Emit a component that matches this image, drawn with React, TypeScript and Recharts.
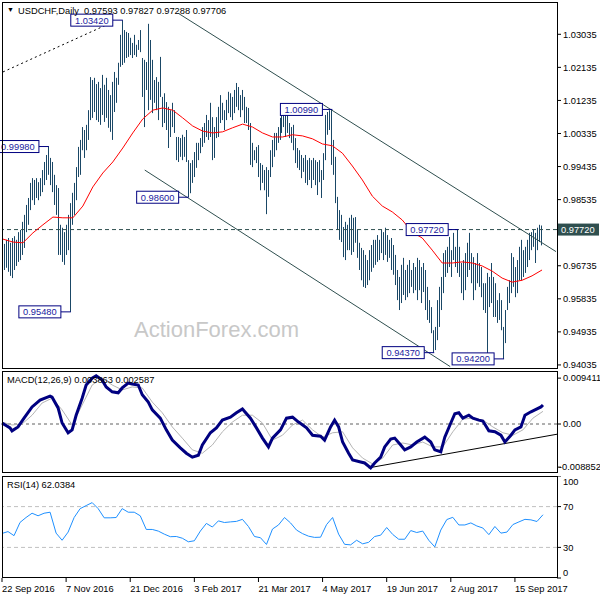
import React from "react";
import { ComposedChart, LineChart, Bar, Line, XAxis, YAxis, ReferenceLine, ReferenceDot } from "recharts";

// daily USDCHF bars, 22 Sep 2016 onwards
const HIGH = [
  0.9738, 0.9733, 0.9744, 0.9749, 0.9736, 0.9749, 0.9754, 0.9744, 0.9765, 0.9771,
  0.9793, 0.9812, 0.9839, 0.9858, 0.9899, 0.9912, 0.9907, 0.9912, 0.9901, 0.9912,
  0.9934, 0.9956, 0.9975, 0.9998, 0.9967, 0.9956, 0.9921, 0.9893, 0.9885, 0.9785,
  0.9777, 0.9765, 0.9785, 0.9812, 0.9844, 0.9872, 0.9899, 0.9942, 0.9997, 1.0016,
  1.0051, 1.0043, 1.0057, 1.0097, 1.0187, 1.0179, 1.0185, 1.0168, 1.0174, 1.0157,
  1.0193, 1.0166, 1.0185, 1.0152, 1.0138, 1.0174, 1.0201, 1.0185, 1.0226, 1.0302,
  1.0342, 1.0315, 1.031, 1.0307, 1.0294, 1.028, 1.0302, 1.0275, 1.0288, 1.0315,
  1.0239, 1.0234, 1.0228, 1.0332, 1.0288, 1.0234, 1.0179, 1.0187, 1.0174, 1.0242,
  1.0133, 1.0143, 1.0119, 1.0106, 1.0097, 1.0117, 1.0097, 1.0024, 1.0024, 1.0021,
  1.003, 1.0024, 1.0043, 0.9961, 0.9953, 0.9961, 0.9983, 1.0008, 1.0008, 1.0021,
  1.0051, 1.0062, 1.0084, 1.007, 1.0117, 1.0078, 1.0051, 1.0078, 1.0106, 1.0138,
  1.0117, 1.0097, 1.0125, 1.0147, 1.0143, 1.0133, 1.0152, 1.0171, 1.016, 1.0138,
  1.0152, 1.0133, 1.0106, 1.0103, 1.0062, 1.0008, 0.9988, 0.9997, 1.0002, 0.9953,
  0.9948, 0.9934, 0.9942, 0.9934, 0.9988, 1.0016, 1.0035, 1.0035, 1.0051, 1.0076,
  1.0089, 1.0092, 1.0089, 1.0084, 1.0062, 1.0051, 1.0057, 1.0021, 0.9994, 0.9988,
  0.9975, 0.9967, 0.9975, 0.9961, 0.9967, 0.9961, 0.9967, 0.9961, 0.9956, 0.9961,
  0.9934, 0.998, 1.0084, 1.0092, 1.0097, 1.0099, 1.0016, 0.997, 0.9861, 0.9825,
  0.9812, 0.9779, 0.9793, 0.9785, 0.9804, 0.9812, 0.9804, 0.9806, 0.9771, 0.9736,
  0.9722, 0.9716, 0.9703, 0.9689, 0.9716, 0.973, 0.9744, 0.9744, 0.9757, 0.9744,
  0.9771, 0.9765, 0.9777, 0.9757, 0.9744, 0.9749, 0.973, 0.9703, 0.9662, 0.9643,
  0.9676, 0.9695, 0.9662, 0.9676, 0.9689, 0.9662, 0.9681, 0.967, 0.9695, 0.9689,
  0.967, 0.9681, 0.9662, 0.9616, 0.958, 0.9561, 0.9498, 0.9507, 0.958, 0.9616,
  0.9643, 0.9708, 0.9716, 0.9725, 0.9752, 0.9716, 0.9763, 0.9725, 0.9772, 0.9725,
  0.9681, 0.9689, 0.9708, 0.9736, 0.9763, 0.9708, 0.9697, 0.9681, 0.9708, 0.9681,
  0.967, 0.9626, 0.9626, 0.9654, 0.9643, 0.9681, 0.9643, 0.9626, 0.958, 0.9599,
  0.958, 0.9507, 0.9553, 0.9616, 0.9634, 0.9708, 0.9697, 0.967, 0.9689, 0.9725,
  0.9744, 0.9716, 0.9725, 0.9744, 0.9763, 0.9765, 0.9771, 0.9763, 0.9777, 0.9785,
  0.9783,
];
const LOW = [
  0.9649, 0.9662, 0.9668, 0.9657, 0.9646, 0.964, 0.9662, 0.9673, 0.9684, 0.9689,
  0.9703, 0.9722, 0.9765, 0.9785, 0.9825, 0.9852, 0.9839, 0.9858, 0.9852, 0.9863,
  0.9874, 0.9893, 0.9907, 0.9921, 0.9893, 0.9874, 0.9839, 0.9812, 0.9703, 0.9703,
  0.9684, 0.9676, 0.9703, 0.9716, 0.9548, 0.9785, 0.9812, 0.9852, 0.9915, 0.9921,
  0.9988, 0.9967, 0.9988, 1.0016, 1.007, 1.0076, 1.0092, 1.007, 1.0065, 1.0057,
  1.0084, 1.0065, 1.0076, 1.0049, 1.0038, 1.0016, 1.0092, 1.0117, 1.0166, 1.0215,
  1.022, 1.0226, 1.0239, 1.0242, 1.0247, 1.0239, 1.0247, 1.0242, 1.0261, 1.0255,
  1.0133, 1.0051, 1.0152, 1.0097, 1.0125, 1.0089, 1.0117, 1.0097, 1.007, 1.0133,
  1.0051, 1.0062, 1.0043, 0.9994, 1.0024, 1.0051, 1.0035, 0.9961, 0.9956, 0.997,
  0.9961, 0.997, 0.9956, 0.986, 0.9871, 0.9899, 0.9915, 0.994, 0.9961, 0.998,
  0.9997, 1.0008, 1.0024, 1.0016, 1.0024, 0.9961, 0.9967, 1.0021, 1.0024, 1.0062,
  1.007, 1.0043, 1.007, 1.0089, 1.0078, 1.007, 1.0089, 1.0106, 1.0097, 1.0078,
  1.0097, 1.0062, 1.0062, 1.0043, 0.9948, 0.9942, 0.9961, 0.9953, 0.9915, 0.9879,
  0.9899, 0.9879, 0.9814, 0.9861, 0.9915, 0.9942, 0.997, 0.9988, 1.0008, 1.0016,
  1.0035, 1.0051, 1.0024, 1.0035, 1.0021, 1.0008, 0.9988, 0.9953, 0.994, 0.9934,
  0.9912, 0.9929, 0.9899, 0.9893, 0.9907, 0.9885, 0.9907, 0.9893, 0.9866, 0.9901,
  0.9858, 0.9907, 0.9961, 1.003, 1.0043, 0.9948, 0.9921, 0.9844, 0.9771, 0.9744,
  0.9738, 0.9697, 0.9689, 0.9716, 0.9716, 0.9703, 0.9711, 0.9736, 0.9695, 0.9662,
  0.9634, 0.9616, 0.9613, 0.9621, 0.9634, 0.9657, 0.9668, 0.9676, 0.9684, 0.9689,
  0.9708, 0.9689, 0.9703, 0.9684, 0.9695, 0.9662, 0.9649, 0.9621, 0.958, 0.9553,
  0.9572, 0.9594, 0.958, 0.9588, 0.9599, 0.9616, 0.9599, 0.9607, 0.958, 0.9607,
  0.9572, 0.9602, 0.9553, 0.9526, 0.9518, 0.949, 0.9437, 0.9444, 0.9471, 0.9507,
  0.9553, 0.9599, 0.9643, 0.9654, 0.967, 0.9643, 0.9689, 0.967, 0.9654, 0.9643,
  0.9599, 0.958, 0.9607, 0.9643, 0.9662, 0.9626, 0.958, 0.9607, 0.9626, 0.9616,
  0.9588, 0.9553, 0.9545, 0.9431, 0.9561, 0.9572, 0.9534, 0.9534, 0.9518, 0.9526,
  0.9498, 0.942, 0.9463, 0.9553, 0.9572, 0.9599, 0.9616, 0.9588, 0.9599, 0.9634,
  0.9634, 0.9643, 0.9654, 0.967, 0.9689, 0.9716, 0.9725, 0.9681, 0.9716, 0.9738,
  0.9729,
];

// moving average, one value every 5 bars
const MA_STEP = 5;
const MA = [
  0.9746, 0.9738, 0.9736, 0.9763, 0.9785, 0.9806, 0.9804, 0.9804, 0.9836, 0.9888,
  0.9926, 0.9956, 0.9994, 1.0035, 1.0073, 1.0097, 1.0103, 1.0097, 1.0076, 1.0054,
  1.004, 1.0035, 1.0038, 1.0049, 1.0059, 1.0051, 1.0035, 1.0024, 1.0024, 1.003,
  1.0027, 1.0019, 1.0005, 1.0, 0.998, 0.9945, 0.9907, 0.9863, 0.9836, 0.982,
  0.9798, 0.9765, 0.9749, 0.9716, 0.9681, 0.9681, 0.9684, 0.9681, 0.9673, 0.9659,
  0.964, 0.9629, 0.9634, 0.9646, 0.9662,
];

// MACD(12,26,9) main line, read at these bars
const MACD_AT = [
  0, 4, 5, 8, 11, 15, 19, 24, 25, 28, 30, 33, 35, 37, 40, 42, 45, 47, 50, 52,
  55, 58, 60, 63, 65, 68, 70, 73, 75, 79, 82, 85, 89, 92, 95, 98, 100, 104, 107, 110,
  114, 117, 120, 124, 127, 130, 133, 135, 139, 142, 145, 148, 152, 155, 159, 161, 164, 166, 168, 170,
  173, 175, 179, 181, 184, 186, 189, 191, 194, 196, 199, 201, 204, 207, 211, 214, 216, 219, 221, 224,
  226, 228, 230, 233, 235, 238, 240, 243, 246, 249, 251, 254, 256, 259, 261, 264, 266, 269, 270,
];
const MACD = [
  0.0002, -0.0008, -0.0014, -0.0006, 0.0012, 0.0035, 0.0049, 0.0057, 0.0055, 0.0033,
  0.0002, -0.0018, -0.0012, 0.0018, 0.0053, 0.008, 0.0094, 0.0099, 0.009, 0.0076,
  0.0066, 0.0064, 0.0074, 0.0084, 0.0082, 0.008, 0.006, 0.0045, 0.0029, 0.0012,
  -0.0012, -0.0033, -0.0049, -0.006, -0.0068, -0.0064, -0.0043, -0.0018, -0.0008, 0.0008,
  0.0014, 0.0023, 0.0031, 0.0012, -0.0008, -0.0029, -0.0047, -0.0029, -0.0012, 0.0012,
  0.0014, 0.0004, -0.0008, -0.0023, -0.0025, -0.0033, -0.0006, 0.0008, -0.0006, -0.0037,
  -0.006, -0.0074, -0.0078, -0.008, -0.009, -0.008, -0.0068, -0.0047, -0.0031, -0.0029,
  -0.0043, -0.0053, -0.0047, -0.0037, -0.0027, -0.0037, -0.0053, -0.0057, -0.0027, 0.0002,
  0.0021, 0.0023, 0.0012, 0.0018, 0.0012, 0.0008, 0.0006, -0.0014, -0.0016, -0.0023,
  -0.0037, -0.0023, -0.0012, -0.0006, 0.0018, 0.0025, 0.0029, 0.0035, 0.0039,
];
// signal line, one value every 5 bars
const SIGNAL_STEP = 5;
const SIGNAL = [
  0.0004, -0.0002, 0.0, 0.0018, 0.0043, 0.0053, 0.0029, -0.0002, 0.0039, 0.008,
  0.0094, 0.008, 0.007, 0.0076, 0.0074, 0.0045, 0.0023, -0.0006, -0.0029, -0.0053,
  -0.006, -0.0043, -0.0016, 0.0004, 0.0018, 0.0018, 0.0002, -0.0033, -0.0023, -0.0002,
  0.0008, -0.0012, -0.0027, -0.0018, -0.0016, -0.0049, -0.007, -0.0082, -0.007, -0.0043,
  -0.0039, -0.0043, -0.0037, -0.0047, -0.0047, -0.0016, 0.001, 0.0012, 0.0008, -0.0006,
  -0.0018, -0.0023, -0.0012, 0.0012, 0.0026,
];

// RSI(14), one value every 3 bars
const RSI_STEP = 3;
const RSI = [
  43.7, 45.5, 41.5, 54.5, 59.3, 63.5, 61, 63.5, 64.5, 44,
  37, 45, 59.3, 68, 71, 73.9, 68, 59, 59, 59.3,
  68, 64.5, 64.5, 61, 47.6, 47.6, 46, 43, 40.5, 40.7,
  39, 35.5, 36.5, 46, 53.5, 50, 56, 54.4, 55, 55.5,
  57.5, 50.5, 40.7, 39.5, 32.9, 48, 52, 59.3, 54, 47,
  43.5, 41, 39.8, 40, 52.4, 59.3, 43, 33, 32.5, 37,
  33.5, 35, 40.7, 42, 49.5, 42.7, 38, 38, 46.5, 44.6,
  46, 37, 30.5, 47, 57.3, 59.5, 52, 52, 54, 51,
  49, 42.5, 50.5, 44, 45, 52.4, 55, 57.5, 57, 55.4,
  62.0,
];

const PRICE_TICKS = [1.03035, 1.02135, 1.01235, 1.00335, 0.99435, 0.98535, 0.96735, 0.95835, 0.94935, 0.94035];
const MACD_TICKS = [0.009411, 0, -0.008852];
const RSI_TICKS = [100, 70, 30, 0];
const DATE_TICKS = [0, 32, 64, 96, 128, 160, 192, 224, 256];
const DATE_LABELS = ["22 Sep 2016", "7 Nov 2016", "21 Dec 2016", "3 Feb 2017", "21 Mar 2017", "4 May 2017", "19 Jun 2017", "2 Aug 2017", "15 Sep 2017"];

const SWING_BARS = [60, 23, 93, 34, 165, 228, 216, 251];
const SWING_PRICES = [1.0342, 0.9998, 0.986, 0.9548, 1.0099, 0.9772, 0.9437, 0.942];
const LAST_LEVEL = 0.9772;

const SLOTS = 278; // bars plus empty space on the right

const FONT = '"Liberation Sans", Arial, sans-serif';
const FS = 9.3;
const BAR_COLOR = "#1a4766";
const TREND = "#2f4f4f";

const pick = (arr: number[], i: number, step: number) =>
  i % step === 0 && arr[i / step] != null ? arr[i / step] : null;

const rows = Array.from({ length: SLOTS }, (_, i) => {
  const m = MACD_AT.indexOf(i);
  return {
    i,
    hl: i < HIGH.length ? [LOW[i], HIGH[i]] : null,
    ma: pick(MA, i, MA_STEP),
    macd: m >= 0 ? MACD[m] : null,
    signal: pick(SIGNAL, i, SIGNAL_STEP),
    rsi: pick(RSI, i, RSI_STEP),
  };
});

const OhlcBar = (props: any) => {
  const { x, y, width, height } = props;
  if (x == null || y == null || height == null || isNaN(y)) return null;
  const top = Math.min(y, y + height);
  const h = Math.max(Math.abs(height), 1);
  return <rect x={Math.floor(x + width / 2)} y={top} width={1} height={h} fill={BAR_COLOR} />;
};

const priceTag = (text: string) => (props: any) => {
  const { cx, cy } = props;
  const right = cx - 10;
  const w = 42;
  const h = 12;
  return (
    <g>
      <line x1={right} y1={cy} x2={cx} y2={cy} stroke="#000080" />
      <rect x={right - w} y={cy - h / 2} width={w} height={h} fill="#fff" stroke="#000080" />
      <text x={right - w / 2} y={cy + 3.5} textAnchor="middle" fontSize={FS} fontFamily={FONT} fill="#1a1aa0">
        {text}
      </text>
    </g>
  );
};

const RightTick = (props: any) => {
  const { x, y, payload, fmt, nudge } = props;
  const dy = nudge ? nudge(payload.value) : 0;
  const dx = payload.value < 0 ? -4 : 0;
  return (
    <text x={x + dx} y={y + dy + 3.3} fontSize={FS} fontFamily={FONT} fill="#000" textAnchor="start">
      {fmt(payload.value)}
    </text>
  );
};

const DateTick = (props: any) => {
  const { x, y, payload } = props;
  const k = DATE_TICKS.indexOf(payload.value);
  if (k < 0) return null;
  return (
    <text x={x} y={y + 8} fontSize={FS} fontFamily={FONT} fill="#000" textAnchor="start">
      {DATE_LABELS[k]}
    </text>
  );
};

const LastLevelBox = (props: any) => {
  const vb = props.viewBox;
  if (!vb) return null;
  const x = vb.x + vb.width + 1;
  return (
    <g>
      <rect x={x} y={vb.y - 6} width={41} height={12} fill={TREND} />
      <text x={x + 3} y={vb.y + 3.5} fontSize={FS} fontFamily={FONT} fill="#fff">
        {LAST_LEVEL.toFixed(5)}
      </text>
    </g>
  );
};

const priceFmt = (v: number) => v.toFixed(5);
const macdFmt = (v: number) => (v === 0 ? "0.00" : String(v));
const rsiFmt = (v: number) => String(v);
const rsiNudge = (v: number) => (v === 100 ? 6 : v === 0 ? -5 : 0);

const textStyle: React.CSSProperties = {
  position: "absolute",
  fontFamily: FONT,
  fontSize: FS,
  lineHeight: "12px",
  color: "#000",
  whiteSpace: "pre",
};

export default function App() {
  return (
    <div style={{ position: "absolute", left: 0, top: 0, width: 600, height: 600, background: "#fff", overflow: "hidden" }}>
      <div style={{ position: "absolute", left: 134, top: 317, fontFamily: FONT, fontSize: 22, color: "#c8c8c8", whiteSpace: "pre" }}>
        ActionForex.com
      </div>

      <div style={{ position: "absolute", left: 0, top: 0 }}>
        <ComposedChart width={600} height={370} data={rows} margin={{ top: 2, right: 0, bottom: 2, left: 2 }}>
          <XAxis dataKey="i" hide />
          <YAxis
            orientation="right"
            width={43}
            domain={[0.93952, 1.03914]}
            allowDataOverflow
            ticks={PRICE_TICKS}
            interval={0}
            axisLine={false}
            tickSize={4}
            tickLine={{ stroke: "#000" }}
            tick={<RightTick fmt={priceFmt} />}
          />
          <ReferenceLine
            segment={[{ x: 0, y: 1.0201 }, { x: 55, y: 1.0337 }]}
            stroke="#000"
            strokeDasharray="2 3"
          />
          <ReferenceLine segment={[{ x: 88, y: 1.036 }, { x: 277, y: 0.9712 }]} stroke={TREND} />
          <ReferenceLine segment={[{ x: 71, y: 0.9934 }, { x: 224, y: 0.9399 }]} stroke={TREND} />
          <ReferenceLine y={LAST_LEVEL} stroke={TREND} strokeDasharray="4 3" label={LastLevelBox} />
          <Bar dataKey="hl" barSize={1} shape={OhlcBar} isAnimationActive={false} />
          <Line dataKey="ma" stroke="#ff0000" strokeWidth={1} dot={false} activeDot={false} connectNulls isAnimationActive={false} />
          {SWING_BARS.map((b, k) => (
            <ReferenceDot
              key={b}
              x={b}
              y={SWING_PRICES[k]}
              r={0}
              ifOverflow="visible"
              shape={priceTag(SWING_PRICES[k].toFixed(5))}
            />
          ))}
        </ComposedChart>
      </div>

      <div style={{ position: "absolute", left: 0, top: 371 }}>
        <LineChart width={600} height={102} data={rows} margin={{ top: 0, right: 0, bottom: 0, left: 2 }}>
          <XAxis dataKey="i" hide />
          <YAxis
            orientation="right"
            width={43}
            domain={[-0.010055, 0.010876]}
            allowDataOverflow
            ticks={MACD_TICKS}
            interval={0}
            axisLine={false}
            tickSize={4}
            tickLine={{ stroke: "#000" }}
            tick={<RightTick fmt={macdFmt} />}
          />
          <ReferenceLine y={0} stroke="#606060" strokeDasharray="3 3" />
          <ReferenceLine segment={[{ x: 183, y: -0.009 }, { x: 277, y: -0.0021 }]} stroke="#000" />
          <Line dataKey="signal" stroke="#b4b4b4" strokeWidth={1} dot={false} activeDot={false} connectNulls isAnimationActive={false} />
          <Line dataKey="macd" stroke="#000080" strokeWidth={3} dot={false} activeDot={false} connectNulls isAnimationActive={false} />
        </LineChart>
      </div>

      <div style={{ position: "absolute", left: 0, top: 476 }}>
        <LineChart width={600} height={124} data={rows} margin={{ top: 0, right: 0, bottom: 0, left: 2 }}>
          <XAxis
            dataKey="i"
            height={22}
            interval={31}
            axisLine={false}
            tickSize={4}
            tickLine={{ stroke: "#000" }}
            tick={<DateTick />}
          />
          <YAxis
            orientation="right"
            width={43}
            domain={[0, 100]}
            allowDataOverflow
            ticks={RSI_TICKS}
            interval={0}
            axisLine={false}
            tickSize={4}
            tickLine={{ stroke: "#000" }}
            tick={<RightTick fmt={rsiFmt} nudge={rsiNudge} />}
          />
          <ReferenceLine y={70} stroke="#c0c0c0" strokeDasharray="4 3" />
          <ReferenceLine y={30} stroke="#c0c0c0" strokeDasharray="4 3" />
          <Line dataKey="rsi" stroke="#1e90ff" strokeWidth={1} dot={false} activeDot={false} connectNulls isAnimationActive={false} />
        </LineChart>
      </div>

      <svg width={600} height={600} style={{ position: "absolute", left: 0, top: 0, pointerEvents: "none" }}>
        <rect x={2.5} y={2.5} width={555} height={366} fill="none" stroke="#000" />
        <rect x={2.5} y={371.5} width={555} height={101} fill="none" stroke="#000" />
        <rect x={2.5} y={476.5} width={555} height={101} fill="none" stroke="#000" />
      </svg>

      <div style={{ ...textStyle, left: 7, top: 4, fontSize: 7 }}>▼</div>
      <div style={{ ...textStyle, left: 18, top: 5 }}>USDCHF,Daily  0.97593 0.97827 0.97288 0.97706</div>
      <div style={{ ...textStyle, left: 7, top: 374 }}>MACD(12,26,9) 0.003863 0.002587</div>
      <div style={{ ...textStyle, left: 7, top: 479 }}>RSI(14) 62.0384</div>
    </div>
  );
}
